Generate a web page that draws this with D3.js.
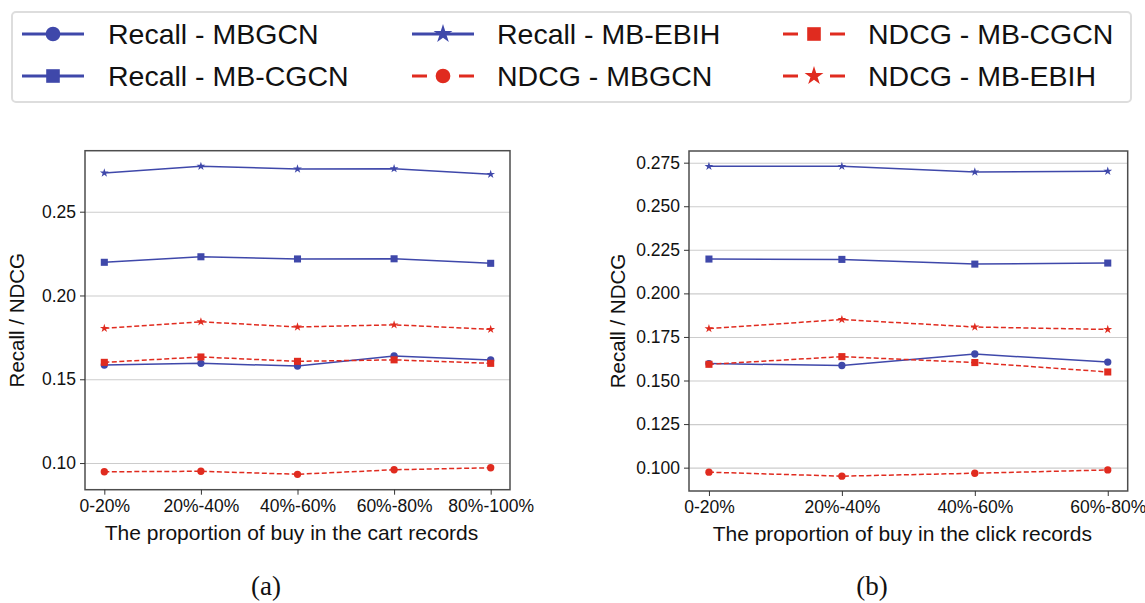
<!DOCTYPE html>
<html>
<head>
<meta charset="utf-8">
<script src="https://cdn.jsdelivr.net/npm/d3@7"></script>
<style>
  body { margin: 0; background: #fff; }
  text { font-family: "Liberation Sans", Arial, sans-serif; }
</style>
</head>
<body>
<div id="chart"></div>
<script>
// Categories
const categoriesA = ["0-20%", "20%-40%", "40%-60%", "60%-80%", "80%-100%"];
const categoriesB = ["0-20%", "20%-40%", "40%-60%", "60%-80%"];

// (a) cart records
const recallMBGCN_A  = [0.1585, 0.1595, 0.1579, 0.1639, 0.1615];
const recallMBCGCN_A = [0.2198, 0.2231, 0.2218, 0.2219, 0.2192];
const recallMBEBIH_A = [0.2731, 0.2771, 0.2755, 0.2757, 0.2723];
const ndcgMBGCN_A    = [0.0948, 0.0951, 0.0933, 0.0960, 0.0972];
const ndcgMBCGCN_A   = [0.1601, 0.1633, 0.1607, 0.1616, 0.1595];
const ndcgMBEBIH_A   = [0.1804, 0.1843, 0.1812, 0.1825, 0.1798];

// (b) click records
const recallMBGCN_B  = [0.1597, 0.1586, 0.1652, 0.1606];
const recallMBCGCN_B = [0.2197, 0.2195, 0.2168, 0.2174];
const recallMBEBIH_B = [0.2729, 0.2729, 0.2697, 0.2701];
const ndcgMBGCN_B    = [0.0974, 0.0951, 0.0968, 0.0987];
const ndcgMBCGCN_B   = [0.1593, 0.1637, 0.1603, 0.1549];
const ndcgMBEBIH_B   = [0.1798, 0.1850, 0.1807, 0.1793];

// Tick labels
const yTicksA = [0.10, 0.15, 0.20, 0.25];
const yTicksB = [0.100, 0.125, 0.150, 0.175, 0.200, 0.225, 0.250, 0.275];

const legendLabels = ["Recall - MBGCN", "Recall - MB-CGCN", "Recall - MB-EBIH",
                      "NDCG - MBGCN", "NDCG - MB-CGCN", "NDCG - MB-EBIH"];

const blue = "#3f48aa";
const red = "#e02b1f";

// style per series (same order as legendLabels)
const styles = [
    { color: blue, symbol: d3.symbolCircle, dash: null },
    { color: blue, symbol: d3.symbolSquare, dash: null },
    { color: blue, symbol: d3.symbolStar, dash: null },
    { color: red, symbol: d3.symbolCircle, dash: "5,2.5" },
    { color: red, symbol: d3.symbolSquare, dash: "5,2.5" },
    { color: red, symbol: d3.symbolStar, dash: "5,2.5" }
];
const plotSizes = { circle: 42, square: 50, star: 24 };
const legendSizes = { circle: 170, square: 185, star: 110 };

function symSize(symbol, sizes) {
    if (symbol === d3.symbolCircle) return sizes.circle;
    if (symbol === d3.symbolSquare) return sizes.square;
    return sizes.star;
}

const width = 1145, height = 603;
const svg = d3.select("#chart").append("svg")
    .attr("width", width)
    .attr("height", height);

function drawPanel(opt) {
    const { left, right, top, bottom, cats, series, yDomain, yTicks, fmt,
            xTitle, tag, tagX, yLabelX } = opt;

    const x = d3.scalePoint()
        .domain(cats)
        .range([left, right])
        .padding(0.05 * (cats.length - 1));

    const y = d3.scaleLinear()
        .domain(yDomain)
        .range([bottom, top]);

    const g = svg.append("g");

    // grid
    g.append("g")
        .attr("transform", `translate(${left},0)`)
        .call(d3.axisLeft(y).tickValues(yTicks).tickSize(-(right - left)).tickFormat(""))
        .call(s => s.select(".domain").remove())
        .call(s => s.selectAll("line").attr("stroke", "#cccccc").attr("stroke-width", 1.1));

    // frame
    g.append("rect")
        .attr("x", left).attr("y", top)
        .attr("width", right - left).attr("height", bottom - top)
        .attr("fill", "none")
        .attr("stroke", "#4d4d4d")
        .attr("stroke-width", 1.5);

    // y axis
    g.append("g")
        .attr("transform", `translate(${left},0)`)
        .call(d3.axisLeft(y).tickValues(yTicks).tickSize(5).tickPadding(4).tickFormat(d3.format(fmt)))
        .call(s => s.select(".domain").remove())
        .call(s => s.selectAll("line").attr("stroke", "#333"))
        .call(s => s.selectAll("text").attr("font-size", "17.5px").attr("fill", "#111")
            .style("font-family", "'Liberation Sans', Arial, sans-serif"));

    // x axis
    g.append("g")
        .attr("transform", `translate(0,${bottom})`)
        .call(d3.axisBottom(x).tickSize(5).tickPadding(5))
        .call(s => s.select(".domain").remove())
        .call(s => s.selectAll("line").attr("stroke", "#333"))
        .call(s => s.selectAll("text").attr("font-size", "17.5px").attr("fill", "#111")
            .style("font-family", "'Liberation Sans', Arial, sans-serif"));

    // lines + markers
    const line = d3.line()
        .x((d, i) => x(cats[i]))
        .y(d => y(d));

    series.forEach((vals, k) => {
        const st = styles[k];
        g.append("path")
            .datum(vals)
            .attr("fill", "none")
            .attr("stroke", st.color)
            .attr("stroke-width", 1.5)
            .attr("stroke-dasharray", st.dash)
            .attr("d", line);

        g.selectAll(null)
            .data(vals)
            .join("path")
            .attr("transform", (d, i) => `translate(${x(cats[i])},${y(d)})`)
            .attr("d", d3.symbol(st.symbol, symSize(st.symbol, plotSizes)))
            .attr("fill", st.color);
    });

    // axis titles
    svg.append("text")
        .attr("x", (left + right) / 2 - 6)
        .attr("y", bottom + 50)
        .attr("text-anchor", "middle")
        .attr("font-size", "21px")
        .attr("fill", "#111")
        .text(xTitle);

    svg.append("text")
        .attr("transform", `translate(${yLabelX},${(top + bottom) / 2}) rotate(-90)`)
        .attr("text-anchor", "middle")
        .attr("font-size", "20.5px")
        .attr("fill", "#111")
        .text("Recall / NDCG");

    svg.append("text")
        .attr("x", tagX)
        .attr("y", 595)
        .attr("text-anchor", "middle")
        .attr("font-size", "27px")
        .style("font-family", "'Liberation Serif', 'DejaVu Serif', serif")
        .attr("fill", "#111")
        .text(tag);
}

drawPanel({
    left: 85, right: 510, top: 150.7, bottom: 489.7,
    cats: categoriesA,
    series: [recallMBGCN_A, recallMBCGCN_A, recallMBEBIH_A, ndcgMBGCN_A, ndcgMBCGCN_A, ndcgMBEBIH_A],
    yDomain: [0.0841, 0.2864],
    yTicks: yTicksA,
    fmt: ".2f",
    xTitle: "The proportion of buy in the cart records",
    tag: "(a)", tagX: 266, yLabelX: 24
});

drawPanel({
    left: 689, right: 1127.7, top: 151, bottom: 491,
    cats: categoriesB,
    series: [recallMBGCN_B, recallMBCGCN_B, recallMBEBIH_B, ndcgMBGCN_B, ndcgMBCGCN_B, ndcgMBEBIH_B],
    yDomain: [0.0866, 0.2817],
    yTicks: yTicksB,
    fmt: ".3f",
    xTitle: "The proportion of buy in the click records",
    tag: "(b)", tagX: 872, yLabelX: 625
});

// Legend
const legend = svg.append("g");
legend.append("rect")
    .attr("x", 12).attr("y", 12)
    .attr("width", 1119).attr("height", 90)
    .attr("rx", 4)
    .attr("fill", "#fff")
    .attr("stroke", "#dddddd")
    .attr("stroke-width", 2);

const colX = [22, 412, 783];
const textX = [108, 497, 868];
const rowY = [34, 76];

legendLabels.forEach((label, k) => {
    const col = Math.floor(k / 2), row = k % 2;
    const st = styles[k];
    const x0 = colX[col], yy = rowY[row];
    legend.append("line")
        .attr("x1", x0).attr("x2", x0 + 62)
        .attr("y1", yy).attr("y2", yy)
        .attr("stroke", st.color)
        .attr("stroke-width", 3.2)
        .attr("stroke-dasharray", st.dash ? "15,32" : null);
    legend.append("path")
        .attr("transform", `translate(${x0 + 31},${yy})`)
        .attr("d", d3.symbol(st.symbol, symSize(st.symbol, legendSizes)))
        .attr("fill", st.color);
    legend.append("text")
        .attr("x", textX[col])
        .attr("y", yy)
        .attr("dy", "0.36em")
        .attr("font-size", "28.5px")
        .attr("fill", "#111")
        .text(label);
});
</script>
</body>
</html>
